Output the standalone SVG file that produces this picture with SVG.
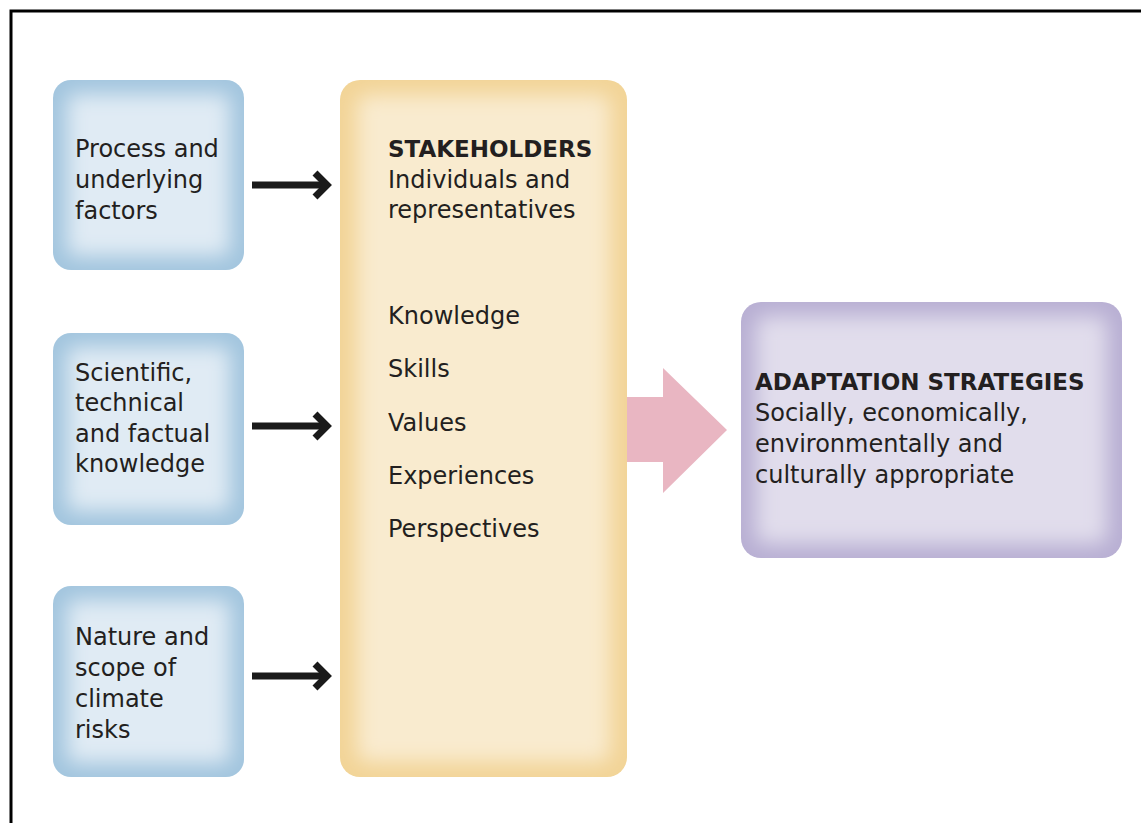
<svg xmlns="http://www.w3.org/2000/svg" width="1141" height="823" viewBox="0 0 1141 823">
  <style>
    .t { font-family: "DejaVu Sans", "Liberation Sans", sans-serif; font-size: 24px; fill: #231f20; }
    .b { font-weight: bold; font-size: 23px; }
    .conn { stroke: #1a1a1a; stroke-width: 7; fill: none; }
  </style>
  <defs>
    <filter id="glow" x="-20%" y="-20%" width="140%" height="140%">
      <feGaussianBlur stdDeviation="10"/>
    </filter>
    <marker id="chev" markerUnits="userSpaceOnUse" markerWidth="24" markerHeight="32" refX="14" refY="16" orient="auto" viewBox="0 0 24 32">
      <path d="M3 4 L15 16 L3 28" fill="none" stroke="#1a1a1a" stroke-width="7" stroke-linejoin="miter" stroke-miterlimit="10"/>
    </marker>
    <clipPath id="c1"><rect x="53" y="80" width="191" height="190" rx="18"/></clipPath>
    <clipPath id="c2"><rect x="53" y="333" width="191" height="192" rx="18"/></clipPath>
    <clipPath id="c3"><rect x="53" y="586" width="191" height="191" rx="18"/></clipPath>
    <clipPath id="cy"><rect x="340" y="80" width="287" height="697" rx="20"/></clipPath>
    <clipPath id="cp"><rect x="741" y="302" width="381" height="256" rx="20"/></clipPath>
  </defs>

  <rect width="1141" height="823" fill="#ffffff"/>
  <!-- frame -->
  <path d="M11 823 L11 11 L1141 11" fill="none" stroke="#000" stroke-width="3"/>

  <g id="node-process">
    <rect x="53" y="80" width="191" height="190" rx="18" fill="#a2c5de"/>
    <g clip-path="url(#c1)"><rect x="67" y="94" width="163" height="162" rx="8" fill="#e0ebf4" filter="url(#glow)"/></g>
    <text class="t" x="75" y="157">Process and</text>
    <text class="t" x="75" y="188">underlying</text>
    <text class="t" x="75" y="219">factors</text>
  </g>

  <g id="node-scientific">
    <rect x="53" y="333" width="191" height="192" rx="18" fill="#a2c5de"/>
    <g clip-path="url(#c2)"><rect x="67" y="347" width="163" height="164" rx="8" fill="#e0ebf4" filter="url(#glow)"/></g>
    <text class="t" x="75" y="381">Scientific,</text>
    <text class="t" x="75" y="411">technical</text>
    <text class="t" x="75" y="442">and factual</text>
    <text class="t" x="75" y="472">knowledge</text>
  </g>

  <g id="node-nature">
    <rect x="53" y="586" width="191" height="191" rx="18" fill="#a2c5de"/>
    <g clip-path="url(#c3)"><rect x="67" y="600" width="163" height="163" rx="8" fill="#e0ebf4" filter="url(#glow)"/></g>
    <text class="t" x="75" y="645">Nature and</text>
    <text class="t" x="75" y="676">scope of</text>
    <text class="t" x="75" y="707">climate</text>
    <text class="t" x="75" y="738">risks</text>
  </g>

  <g id="node-stakeholders">
    <rect x="340" y="80" width="287" height="697" rx="20" fill="#f2d497"/>
    <g clip-path="url(#cy)"><rect x="357" y="95" width="253" height="667" rx="10" fill="#f9ebcf" filter="url(#glow)"/></g>
    <text class="t b" x="388" y="157">STAKEHOLDERS</text>
    <text class="t" x="388" y="188">Individuals and</text>
    <text class="t" x="388" y="218">representatives</text>
    <text class="t" x="388" y="324">Knowledge</text>
    <text class="t" x="388" y="377">Skills</text>
    <text class="t" x="388" y="431">Values</text>
    <text class="t" x="388" y="484">Experiences</text>
    <text class="t" x="388" y="537">Perspectives</text>
  </g>

  <g id="node-adaptation">
    <rect x="741" y="302" width="381" height="256" rx="20" fill="#b8afd3"/>
    <g clip-path="url(#cp)"><rect x="756" y="316" width="351" height="228" rx="10" fill="#e1ddec" filter="url(#glow)"/></g>
    <text class="t b" x="755" y="390">ADAPTATION STRATEGIES</text>
    <text class="t" x="755" y="421">Socially, economically,</text>
    <text class="t" x="755" y="452">environmentally and</text>
    <text class="t" x="755" y="483">culturally appropriate</text>
  </g>

  <g id="connectors">
    <path class="conn" d="M252 185 L326 185" marker-end="url(#chev)"/>
    <path class="conn" d="M252 426 L326 426" marker-end="url(#chev)"/>
    <path class="conn" d="M252 676 L326 676" marker-end="url(#chev)"/>
    <polygon points="627,397 663,397 663,368 727,430 663,493 663,462 627,462" fill="#e9b6c2"/>
  </g>
</svg>
